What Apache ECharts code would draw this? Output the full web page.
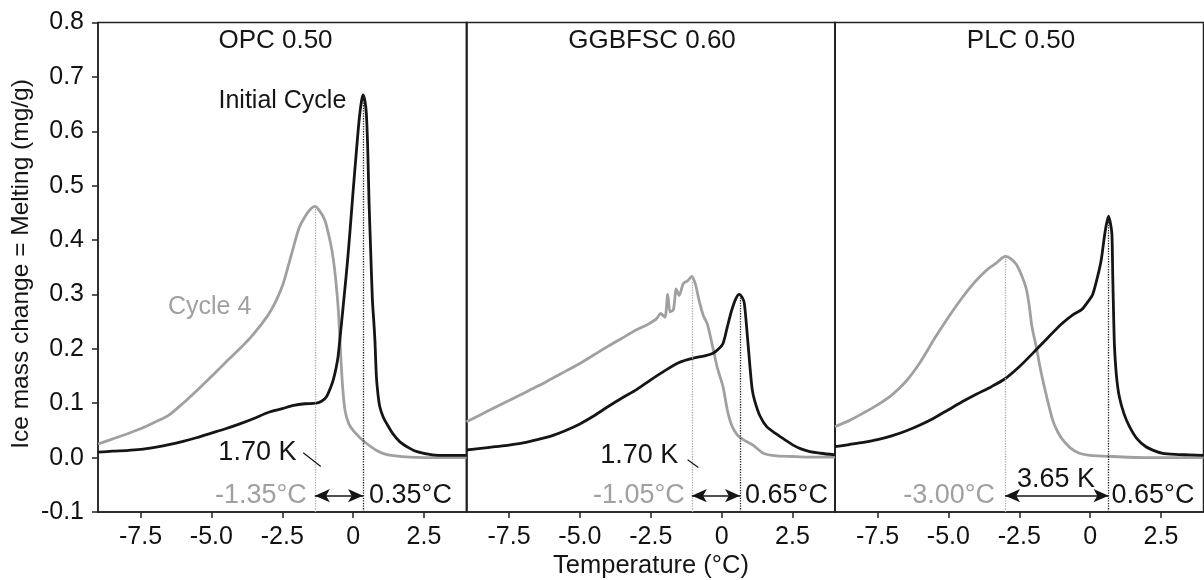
<!DOCTYPE html>
<html><head><meta charset="utf-8">
<script src="https://cdn.jsdelivr.net/npm/echarts@6/dist/echarts.min.js"></script>
<style>html,body{margin:0;padding:0;background:#fff}#c{width:1204px;height:580px}</style>
</head><body><div id="c"></div>
<script>
// ---------------- DATA ----------------
const panelNames = ['OPC 0.50', 'GGBFSC 0.60', 'PLC 0.50'];
const xTicks = [-7.5, -5.0, -2.5, 0, 2.5];
const seriesNames = ['Cycle 4', 'Initial Cycle'];

// [temperature °C, ice mass change mg/g]
const opcCycle4 = [[-9.0,0.025],[-8.5,0.034],[-8.0,0.043],[-7.5,0.053],[-7.0,0.065],[-6.5,0.078],[-6.0,0.100],[-5.5,0.124],[-5.0,0.149],[-4.5,0.175],[-4.0,0.200],[-3.5,0.228],[-3.0,0.262],[-2.75,0.285],[-2.5,0.315],[-2.3,0.350],[-2.1,0.388],[-1.9,0.423],[-1.7,0.443],[-1.5,0.457],[-1.35,0.462],[-1.2,0.455],[-1.0,0.437],[-0.82,0.400],[-0.7,0.365],[-0.6,0.320],[-0.52,0.270],[-0.45,0.200],[-0.37,0.130],[-0.28,0.085],[-0.15,0.062],[0.0,0.050],[0.25,0.036],[0.5,0.025],[0.8,0.014],[1.1,0.007],[1.5,0.003],[2.0,0.001],[3.0,0.0],[4.0,0.0]];
const opcInitial = [[-9.0,0.010],[-8.5,0.012],[-8.0,0.013],[-7.5,0.015],[-7.0,0.019],[-6.5,0.024],[-6.0,0.030],[-5.5,0.037],[-5.0,0.045],[-4.5,0.053],[-4.0,0.062],[-3.5,0.072],[-3.0,0.083],[-2.5,0.090],[-2.1,0.096],[-1.7,0.099],[-1.3,0.100],[-1.1,0.104],[-0.94,0.112],[-0.8,0.128],[-0.7,0.143],[-0.6,0.165],[-0.53,0.186],[-0.41,0.247],[-0.3,0.305],[-0.2,0.360],[-0.12,0.410],[0.0,0.490],[0.12,0.566],[0.22,0.625],[0.3,0.657],[0.35,0.667],[0.42,0.655],[0.47,0.630],[0.52,0.560],[0.56,0.473],[0.62,0.380],[0.68,0.290],[0.73,0.250],[0.77,0.215],[0.82,0.150],[0.88,0.115],[0.94,0.094],[1.05,0.076],[1.18,0.063],[1.4,0.044],[1.65,0.029],[2.0,0.017],[2.25,0.011],[2.8,0.005],[3.4,0.004],[4.0,0.004]];

const ggbCycle4 = [[-9.0,0.066],[-8.5,0.079],[-8.0,0.092],[-7.5,0.105],[-7.0,0.118],[-6.5,0.131],[-6.0,0.145],[-5.5,0.159],[-5.0,0.173],[-4.5,0.189],[-4.0,0.205],[-3.5,0.220],[-3.0,0.235],[-2.6,0.245],[-2.3,0.255],[-2.15,0.265],[-2.0,0.258],[-1.9,0.300],[-1.82,0.268],[-1.7,0.272],[-1.6,0.310],[-1.5,0.298],[-1.35,0.320],[-1.2,0.325],[-1.05,0.333],[-0.92,0.318],[-0.8,0.290],[-0.65,0.262],[-0.5,0.245],[-0.3,0.200],[-0.15,0.165],[0.05,0.130],[0.2,0.088],[0.35,0.060],[0.55,0.042],[0.76,0.033],[1.11,0.023],[1.47,0.008],[1.94,0.003],[2.5,0.002],[3.0,0.001],[4.0,0.001]];
const ggbInitial = [[-9.0,0.014],[-8.5,0.017],[-8.0,0.020],[-7.5,0.023],[-7.0,0.027],[-6.5,0.033],[-6.0,0.040],[-5.5,0.050],[-5.0,0.062],[-4.5,0.077],[-4.0,0.094],[-3.5,0.110],[-3.0,0.125],[-2.5,0.143],[-2.0,0.160],[-1.5,0.175],[-1.0,0.183],[-0.6,0.187],[-0.3,0.192],[-0.1,0.200],[0.05,0.210],[0.2,0.240],[0.35,0.270],[0.5,0.292],[0.62,0.300],[0.72,0.295],[0.8,0.284],[0.9,0.229],[1.0,0.167],[1.08,0.125],[1.17,0.104],[1.35,0.077],[1.59,0.057],[1.94,0.043],[2.25,0.032],[2.52,0.023],[2.8,0.016],[3.11,0.011],[3.5,0.008],[4.0,0.005]];

const plcCycle4 = [[-9.0,0.057],[-8.5,0.068],[-8.0,0.082],[-7.5,0.097],[-7.0,0.115],[-6.5,0.140],[-6.0,0.175],[-5.5,0.218],[-5.0,0.258],[-4.6,0.288],[-4.2,0.315],[-3.9,0.332],[-3.6,0.347],[-3.3,0.358],[-3.0,0.370],[-2.8,0.366],[-2.6,0.355],[-2.4,0.333],[-2.25,0.310],[-2.15,0.280],[-2.05,0.240],[-1.9,0.204],[-1.78,0.170],[-1.67,0.143],[-1.5,0.105],[-1.32,0.069],[-1.15,0.048],[-0.97,0.033],[-0.7,0.018],[-0.38,0.008],[0.0,0.004],[0.8,0.002],[2.0,0.0],[4.0,0.0]];
const plcInitial = [[-9.0,0.020],[-8.5,0.024],[-8.0,0.028],[-7.5,0.033],[-7.0,0.040],[-6.5,0.049],[-6.0,0.060],[-5.5,0.073],[-5.0,0.088],[-4.5,0.103],[-4.0,0.117],[-3.5,0.130],[-3.0,0.145],[-2.5,0.167],[-2.0,0.193],[-1.5,0.220],[-1.0,0.246],[-0.6,0.263],[-0.3,0.272],[-0.1,0.285],[0.09,0.300],[0.25,0.330],[0.39,0.363],[0.5,0.405],[0.56,0.425],[0.65,0.444],[0.72,0.430],[0.77,0.410],[0.8,0.330],[0.83,0.260],[0.86,0.204],[0.93,0.150],[1.03,0.112],[1.2,0.080],[1.39,0.057],[1.65,0.035],[1.97,0.020],[2.3,0.012],[2.56,0.008],[3.0,0.006],[3.5,0.005],[4.0,0.004]];

const panelData = [[opcCycle4, opcInitial], [ggbCycle4, ggbInitial], [plcCycle4, plcInitial]];
const peakTemps = [[-1.35, 0.35], [-1.05, 0.65], [-3.00, 0.65]];      // [cycle 4, initial]
const peakLabels = [['-1.35°C', '0.35°C'], ['-1.05°C', '0.65°C'], ['-3.00°C', '0.65°C']];
const shiftLabels = ['1.70 K', '1.70 K', '3.65 K'];

// ---------------- LAYOUT / STYLE ----------------
const FONT = '"Liberation Sans", Arial, Helvetica, sans-serif';
const BLACK = '#151515', GREY = '#a0a0a0', AXIS = '#222';
const GRID_LEFTS = [98, 466.5, 835], GRID_TOP = 22.5, GRID_W = 368.5, GRID_H = 489.5;
const ARROW_Y = -0.07;

const grids = [], xAxes = [], yAxes = [], series = [];
panelNames.forEach((name, i) => {
  grids.push({left: GRID_LEFTS[i], top: GRID_TOP, width: GRID_W, height: GRID_H,
    show: true, borderColor: AXIS, borderWidth: 1.5, containLabel: false});
  xAxes.push({type: 'value', gridIndex: i, min: -9, max: 4,
    axisLine: {show: true, onZero: false, lineStyle: {color: AXIS, width: 1.5}},
    axisTick: {show: true, length: 6, customValues: xTicks, lineStyle: {color: AXIS, width: 1.5}},
    axisLabel: {customValues: xTicks, fontSize: 25, fontFamily: FONT, color: '#111', margin: 13,
      formatter: v => (Math.abs(v) < 1e-9 ? '0' : v.toFixed(1))},
    splitLine: {show: false}});
  yAxes.push({type: 'value', gridIndex: i, min: -0.1, max: 0.8, interval: 0.1,
    axisLine: {show: true, onZero: false, lineStyle: {color: AXIS, width: 1.5}},
    axisTick: {show: i === 0, length: 6, lineStyle: {color: AXIS, width: 1.5}},
    axisLabel: {show: i === 0, fontSize: 25, fontFamily: FONT, color: '#111', margin: 14,
      formatter: v => v.toFixed(1)},
    splitLine: {show: false}});
  const [c4, init] = panelData[i];
  const peak4 = Math.max(...c4.map(d => d[1]));
  const peakI = Math.max(...init.map(d => d[1]));
  series.push({type: 'line', name: seriesNames[0], xAxisIndex: i, yAxisIndex: i, data: c4,
    showSymbol: false, smooth: 0.25, lineStyle: {color: GREY, width: 2.8}, z: 2,
    markLine: {silent: true, symbol: 'none', label: {show: false}, animation: false,
      lineStyle: {color: '#aaa', type: 'dotted', width: 1.3},
      data: [[{coord: [peakTemps[i][0], -0.1]}, {coord: [peakTemps[i][0], peak4]}]]}});
  series.push({type: 'line', name: seriesNames[1], xAxisIndex: i, yAxisIndex: i, data: init,
    showSymbol: false, smooth: 0.25, lineStyle: {color: BLACK, width: 2.8}, z: 3,
    markLine: {silent: true, symbol: 'none', label: {show: false}, animation: false,
      lineStyle: {color: '#222', type: 'dotted', width: 1.3},
      data: [
        [{coord: [peakTemps[i][1], -0.1]}, {coord: [peakTemps[i][1], peakI]}],
        [{coord: [peakTemps[i][0], ARROW_Y], symbol: 'arrow', symbolSize: [10, 15],
          lineStyle: {type: 'solid', width: 1.5, color: BLACK}},
         {coord: [peakTemps[i][1], ARROW_Y], symbol: 'arrow', symbolSize: [10, 15]}]
      ]}});
});

const chart = echarts.init(document.getElementById('c'), null, {renderer: 'canvas'});
chart.setOption({animation: false, backgroundColor: '#fff',
  grid: grids, xAxis: xAxes, yAxis: yAxes, series: series});

// ---------------- ANNOTATIONS ----------------
const px = (i, p) => chart.convertToPixel({gridIndex: i}, p);
const txt = (x, y, text, o) => ({type: 'text', x, y, silent: true, z: 10, rotation: o.rot || 0,
  style: {text, fill: o.color || BLACK, fontSize: o.size || 24, fontFamily: FONT,
    align: o.align || 'center', verticalAlign: 'middle'}});
const g = [];
const titleX = [275.5, 652, 1021];
panelNames.forEach((n, i) => g.push(txt(titleX[i], 40.5, n, {size: 26})));
g.push(txt(21, 264, 'Ice mass change = Melting (mg/g)', {size: 24.5, rot: Math.PI / 2}));
g.push(txt(651, 566, 'Temperature (°C)', {size: 25.5}));

let p = px(0, [-0.24, 0.655]); g.push(txt(p[0], p[1], seriesNames[1], {align: 'right', size: 25}));
p = px(0, [-6.53, 0.277]); g.push(txt(p[0], p[1], seriesNames[0], {align: 'left', size: 25, color: GREY}));

const kPos = [[-2.0, 0.01, 'right'], [-1.53, 0.004, 'right'], [-1.2, -0.04, 'center']];
const kLines = [[[-1.76, 0.009], [-1.14, -0.0165]], [[-1.2, -0.004], [-0.82, -0.018]], null];
const gapL = [8, 7, 10], gapR = [6, 5, 3];
panelNames.forEach((n, i) => {
  let q = px(i, [kPos[i][0], kPos[i][1]]);
  g.push(txt(q[0], q[1], shiftLabels[i], {align: kPos[i][2], size: 27}));
  if (kLines[i]) {
    const a = px(i, kLines[i][0]), b = px(i, kLines[i][1]);
    g.push({type: 'line', silent: true, z: 10, shape: {x1: a[0], y1: a[1], x2: b[0], y2: b[1]},
      style: {stroke: BLACK, lineWidth: 1.2}});
  }
  const l = px(i, [peakTemps[i][0], ARROW_Y]), r = px(i, [peakTemps[i][1], ARROW_Y]);
  g.push(txt(l[0] - gapL[i], l[1], peakLabels[i][0], {align: 'right', size: 27, color: GREY}));
  g.push(txt(r[0] + gapR[i], r[1], peakLabels[i][1], {align: 'left', size: 27}));
});
chart.setOption({graphic: g});
</script></body></html>
